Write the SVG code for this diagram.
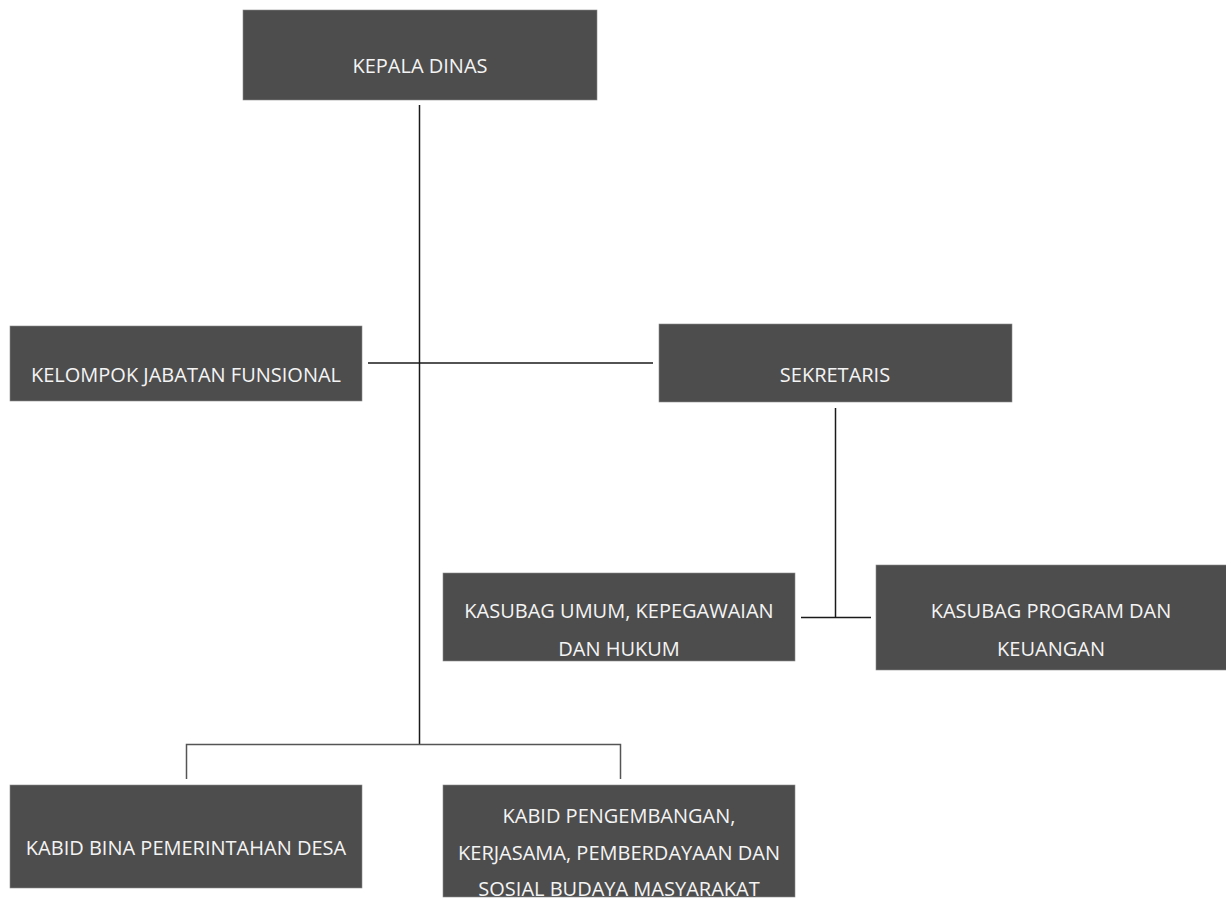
<svg xmlns="http://www.w3.org/2000/svg" width="1226" height="900" viewBox="0 0 1226 900">
<style>
.box{fill:#4d4d4d;stroke:#8a8a8a;stroke-width:0.6}
.t{fill:#f4f4f4;font-family:"Open Sans","Noto Sans",sans-serif;font-size:20px;text-anchor:middle}
.c{fill:none;stroke:#1a1a1a;stroke-width:1.5}
.g{fill:none;stroke:#555;stroke-width:1.5}
</style>
<defs>
<clipPath id="clipK"><rect x="443" y="785" width="352" height="112"/></clipPath>
</defs>
<rect width="1226" height="900" fill="#fff"/>
<g id="connectors">
<line class="c" x1="419.5" y1="105" x2="419.5" y2="744"/>
<line class="c" x1="368" y1="363" x2="653" y2="363"/>
<line class="c" x1="835.5" y1="408" x2="835.5" y2="617"/>
<line class="c" x1="801" y1="617.5" x2="871" y2="617.5"/>
<polyline class="g" points="186.5,779 186.5,744.5 620.5,744.5 620.5,779"/>
</g>
<g id="kepala-dinas">
<rect class="box" x="243" y="10" width="354" height="90"/>
<text class="t" x="420" y="73">KEPALA DINAS</text>
</g>
<g id="kelompok-jabatan-fungsional">
<rect class="box" x="10" y="326" width="352" height="75"/>
<text class="t" x="186" y="382">KELOMPOK JABATAN FUNSIONAL</text>
</g>
<g id="sekretaris">
<rect class="box" x="659" y="324" width="353" height="78"/>
<text class="t" x="835" y="382">SEKRETARIS</text>
</g>
<g id="kasubag-umum">
<rect class="box" x="443" y="573" width="352" height="88"/>
<text class="t" x="619" y="618">KASUBAG UMUM, KEPEGAWAIAN</text>
<text class="t" x="619" y="656">DAN HUKUM</text>
</g>
<g id="kasubag-program">
<rect class="box" x="876" y="565" width="352" height="105"/>
<text class="t" x="1051" y="618">KASUBAG PROGRAM DAN</text>
<text class="t" x="1051" y="656">KEUANGAN</text>
</g>
<g id="kabid-bina">
<rect class="box" x="10" y="785" width="352" height="103"/>
<text class="t" x="186" y="855">KABID BINA PEMERINTAHAN DESA</text>
</g>
<g id="kabid-pengembangan">
<rect class="box" x="443" y="785" width="352" height="112"/>
<text class="t" x="619" y="823">KABID PENGEMBANGAN,</text>
<text class="t" x="619" y="860">KERJASAMA, PEMBERDAYAAN DAN</text>
<text class="t" x="619" y="896" clip-path="url(#clipK)">SOSIAL BUDAYA MASYARAKAT</text>
</g>
</svg>
